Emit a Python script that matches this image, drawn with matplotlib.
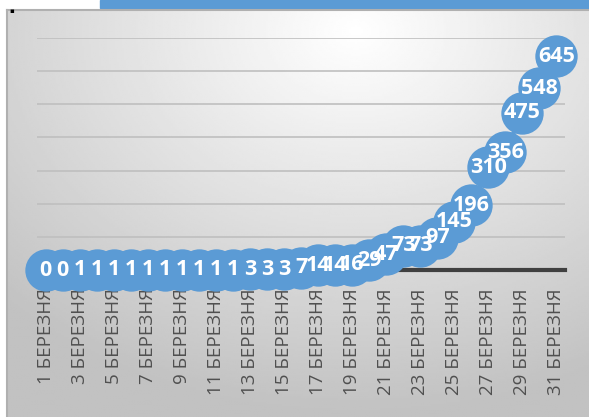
import numpy as np
import matplotlib.pyplot as plt
from matplotlib.patches import Rectangle

days = list(range(1, 32))
cases = [0, 0, 1, 1, 1, 1, 1, 1, 1, 1, 1, 1, 3, 3, 3, 7, 14, 14, 16, 29,
         47, 73, 73, 97, 145, 196, 310, 356, 475, 548, 645]
labels = [f"{d} БЕРЕЗНЯ" for d in days]

W, H = 589, 417
fig = plt.figure(figsize=(W / 100, H / 100), dpi=100)
fig.patch.set_facecolor("white")

# gradient panel behind the chart
bg = fig.add_axes([7 / W, 0, 1 - 7 / W, 1 - 10 / H])
bg.set_axis_off()
yy, xx = np.mgrid[0:1:200j, 0:1:300j]
r = np.sqrt(((xx - 0.6) / 1.0) ** 2 + ((yy - 0.05) / 1.1) ** 2)
shade = np.clip(1.0 - 0.28 * r, 0.76, 1.0)
bg.imshow(shade, cmap="gray", vmin=0, vmax=1, aspect="auto",
          extent=[0, 1, 1, 0], interpolation="bilinear")
bg.set_xlim(0, 1)
bg.set_ylim(1, 0)

# blue bar and border at the top
fig.patches.append(Rectangle((100 / W, 1 - 8 / H), 1, 8 / H,
                             transform=fig.transFigure, color="#5b9bd5"))
fig.add_artist(plt.Line2D([7 / W, 1], [1 - 10 / H, 1 - 10 / H],
                          color="#b0b0b0", lw=1.5, transform=fig.transFigure))
fig.add_artist(plt.Line2D([7 / W, 7 / W], [0, 1 - 10 / H],
                          color="#b0b0b0", lw=1.5, transform=fig.transFigure))
fig.text(9 / W, 1 - 13 / H, "▪", fontsize=5, color="black")

ax = fig.add_axes([37 / W, (H - 270) / H, (565 - 37) / W, (270 - 38) / H])
ax.set_facecolor("none")
x = np.arange(len(days))
ax.set_xlim(-0.5, len(days) - 0.5)
ax.set_ylim(0, 700)
ax.set_yticks(range(100, 701, 100))
ax.yaxis.grid(True, color="#bfbfbf", lw=1.2)
ax.set_axisbelow(True)
ax.tick_params(axis="y", left=False, labelleft=False)
for s in ["top", "right", "left"]:
    ax.spines[s].set_visible(False)
ax.spines["bottom"].set_color("#404040")
ax.spines["bottom"].set_linewidth(3)

ax.plot(x, cases, color="#5b9bd5", lw=3, marker="o", ms=30.5,
        markeredgewidth=0, clip_on=False, zorder=3)
for xi, v in zip(x, cases):
    ax.text(xi, v, str(v), ha="center", va="center", color="white",
            fontsize=15.5, fontweight="bold", family="Open Sans", zorder=4)

ax.set_xticks(x[::2])
ax.set_xticklabels(labels[::2], rotation=90, fontsize=13.5, color="#505050",
                   family="Open Sans")
ax.tick_params(axis="x", length=0, pad=13)

fig.savefig("out.png", dpi=100)
